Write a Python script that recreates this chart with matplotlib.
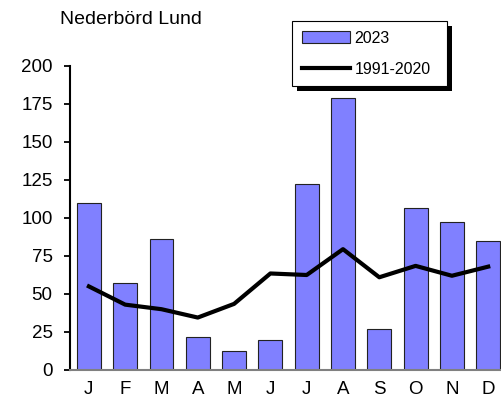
import matplotlib
matplotlib.use("Agg")
import matplotlib.pyplot as plt
from matplotlib.patches import Rectangle

plt.rcParams['font.family'] = ['Liberation Sans', 'DejaVu Sans']

# Monthly precipitation (mm), Lund
months = ['J', 'F', 'M', 'A', 'M', 'J', 'J', 'A', 'S', 'O', 'N', 'D']
rain_2023 = [110, 57.5, 86, 21.5, 12.5, 19.5, 122.5, 179, 27, 106.5, 97.5, 85]
normal_1991_2020 = [55, 43, 40, 34.5, 43.5, 63.5, 62.5, 79.5, 61, 68.5, 62, 68]
yticks = [0, 25, 50, 75, 100, 125, 150, 175, 200]

W, H = 502, 403
fig = plt.figure(figsize=(W / 100, H / 100), dpi=100)
ax = fig.add_axes([70 / W, 1 - 370 / H, 1 - 70 / W, (370 - 66) / H])

x = list(range(len(months)))
bars = ax.bar(x, rain_2023, width=0.66, color='#8080ff', edgecolor='#222222',
              linewidth=0.8, label='2023', zorder=2)
line, = ax.plot(x, normal_1991_2020, color='black', linewidth=3,
                label='1991-2020', zorder=3, solid_joinstyle='round')

ax.set_xlim(-0.52, 11.38)
ax.set_ylim(0, 200)
ax.set_yticks(yticks)
ax.set_xticks(x)
ax.set_xticklabels(months)

for side in ('top', 'right'):
    ax.spines[side].set_visible(False)
ax.spines['left'].set_color('black')
ax.spines['left'].set_linewidth(1.5)
ax.spines['bottom'].set_color('#808080')
ax.spines['bottom'].set_linewidth(1.5)

ax.tick_params(axis='y', direction='out', length=4.5, width=1.3,
               pad=8, labelsize=13.5, colors='black')
ax.tick_params(axis='x', length=0, pad=8, labelsize=13.5)

fig.text(60 / W, 1 - 19 / H, 'Nederbörd Lund', fontsize=14,
         ha='left', va='center')

leg = fig.legend([bars, line], ['2023', '1991-2020'], loc='upper left',
                 bbox_to_anchor=(292 / W, 1 - 83 / H, 155 / W, 62 / H),
                 mode='expand', bbox_transform=fig.transFigure, fontsize=11.5,
                 frameon=True, fancybox=False, edgecolor='black',
                 framealpha=1, facecolor='white',
                 handlelength=3.0, handletextpad=0.3, borderpad=0.6,
                 labelspacing=1.0, borderaxespad=0)
leg.get_frame().set_linewidth(0.8)

# solid drop shadow behind the legend box
fig.canvas.draw()
bb = leg.get_window_extent()
shadow = Rectangle((bb.x0 + 5, bb.y0 - 5), bb.width, bb.height,
                   transform=None, facecolor='black', edgecolor='none',
                   zorder=leg.get_zorder() - 0.1)
fig.add_artist(shadow)

fig.savefig('out.png', dpi=100)
